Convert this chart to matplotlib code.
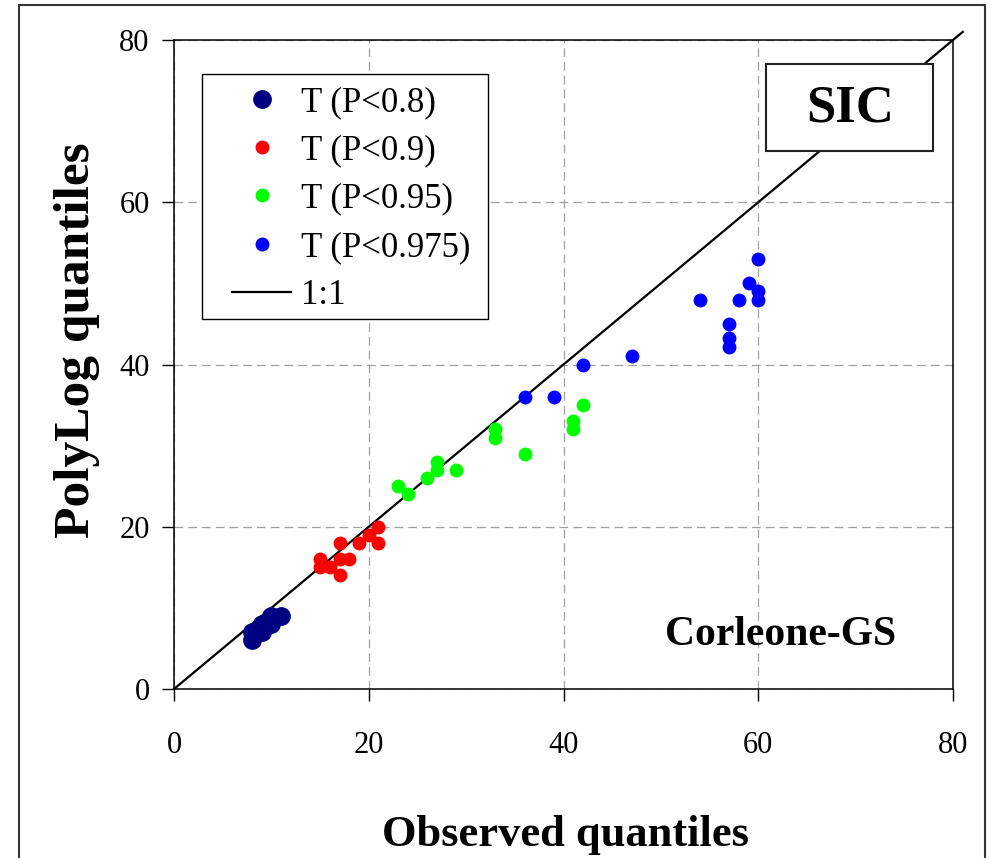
import matplotlib
matplotlib.use("Agg")
from matplotlib import pyplot as plt
from matplotlib.patches import Rectangle

# quantiles (observed, PolyLog)
navy_x = [8, 8, 9, 9, 10, 10, 11]
navy_y = [6, 7, 7, 8, 8, 9, 9]
red_x = [15, 15, 16, 17, 17, 17, 18, 19, 20, 21, 21]
red_y = [16, 15, 15, 18, 16, 14, 16, 18, 19, 20, 18]
green_x = [23, 24, 26, 27, 27, 29, 33, 33, 36, 41, 41, 42]
green_y = [25, 24, 26, 28, 27, 27, 32, 31, 29, 33, 32, 35]
blue_x = [36, 39, 42, 47, 54, 57, 57, 57, 58, 59, 60, 60, 60]
blue_y = [36, 36, 40, 41, 48, 45, 43.3, 42.2, 48, 50, 53, 49, 48]
one_to_one = [0, 81]
ticks = [0, 20, 40, 60, 80]
labels = ["T (P<0.8)", "T (P<0.9)", "T (P<0.95)", "T (P<0.975)", "1:1"]

plt.rcParams["font.family"] = ["Liberation Serif", "DejaVu Serif"]

W, H = 991, 858
AX_L, AX_R, AX_T, AX_B = 174, 953, 40, 689
fig = plt.figure(figsize=(W / 100, H / 100), dpi=100)
ax = fig.add_axes([AX_L / W, 1 - AX_B / H, (AX_R - AX_L) / W, (AX_B - AX_T) / H])


def ax_frac(px, py):
    """pixel position in the picture -> axes fraction"""
    return (px - AX_L) / (AX_R - AX_L), (AX_B - py) / (AX_B - AX_T)


# outer frame of the chart area
fig.add_artist(Rectangle((19 / W, -0.05), (985 - 19) / W, 1.05 - 5 / H,
                         transform=fig.transFigure, fill=False,
                         edgecolor="#333333", linewidth=1.5))

ax.set_xlim(0, 80)
ax.set_ylim(0, 80)
ax.set_xticks(ticks)
ax.set_yticks(ticks)
ax.grid(True, color="#a0a0a0", linestyle=(0, (7, 4)), linewidth=0.9)
ax.set_axisbelow(True)
for sp in ax.spines.values():
    sp.set_linewidth(1.1)
ax.tick_params(axis="both", direction="out", length=8.5, width=1.0, labelsize=22)
ax.tick_params(axis="x", pad=22)
ax.tick_params(axis="y", pad=9)

h5, = ax.plot(one_to_one, one_to_one, color="black", linewidth=1.6, clip_on=False,
              zorder=2, label=labels[4])
h1, = ax.plot(navy_x, navy_y, "o", color="#000080", markersize=12.5, zorder=3, label=labels[0])
h2, = ax.plot(red_x, red_y, "o", color="#ff0000", markersize=9, zorder=3, label=labels[1])
h3, = ax.plot(green_x, green_y, "o", color="#00ff00", markersize=9, zorder=3, label=labels[2])
h4, = ax.plot(blue_x, blue_y, "o", color="#0000ff", markersize=9, zorder=3, label=labels[3])

# legend box drawn separately so the inner padding can follow the original
x0, y0 = ax_frac(202, 319)
x1, y1 = ax_frac(488, 74)
ax.add_patch(Rectangle((x0, y0), x1 - x0, y1 - y0, transform=ax.transAxes,
                       facecolor="white", edgecolor="black", linewidth=1.0, zorder=4))
leg = ax.legend(handles=[h1, h2, h3, h4, h5], loc="upper left",
                bbox_to_anchor=ax_frac(232, 86), borderaxespad=0, borderpad=0,
                frameon=False, fontsize=25, handlelength=1.7, handletextpad=0.3,
                labelspacing=0.44)
leg.set_zorder(5)

ax.set_xlabel("Observed quantiles", fontsize=32, fontweight="bold")
ax.set_ylabel("PolyLog quantiles", fontsize=37, fontweight="bold")
ax.xaxis.set_label_coords(0.503, -0.194)
ax.yaxis.set_label_coords(*ax_frac(100, 340))

sx0, sy0 = ax_frac(766, 151)
sx1, sy1 = ax_frac(933, 64)
ax.add_patch(Rectangle((sx0, sy0), sx1 - sx0, sy1 - sy0, transform=ax.transAxes,
                       facecolor="white", edgecolor="#222222", linewidth=1.5,
                       zorder=4, clip_on=False))
ax.text(*ax_frac(850, 108), "SIC", transform=ax.transAxes,
        fontsize=38, fontweight="bold", ha="center", va="center", zorder=5)
ax.text(*ax_frac(781, 635), "Corleone-GS", transform=ax.transAxes,
        fontsize=30, fontweight="bold", ha="center", va="center", zorder=5)

fig.savefig("out.png", dpi=100)
